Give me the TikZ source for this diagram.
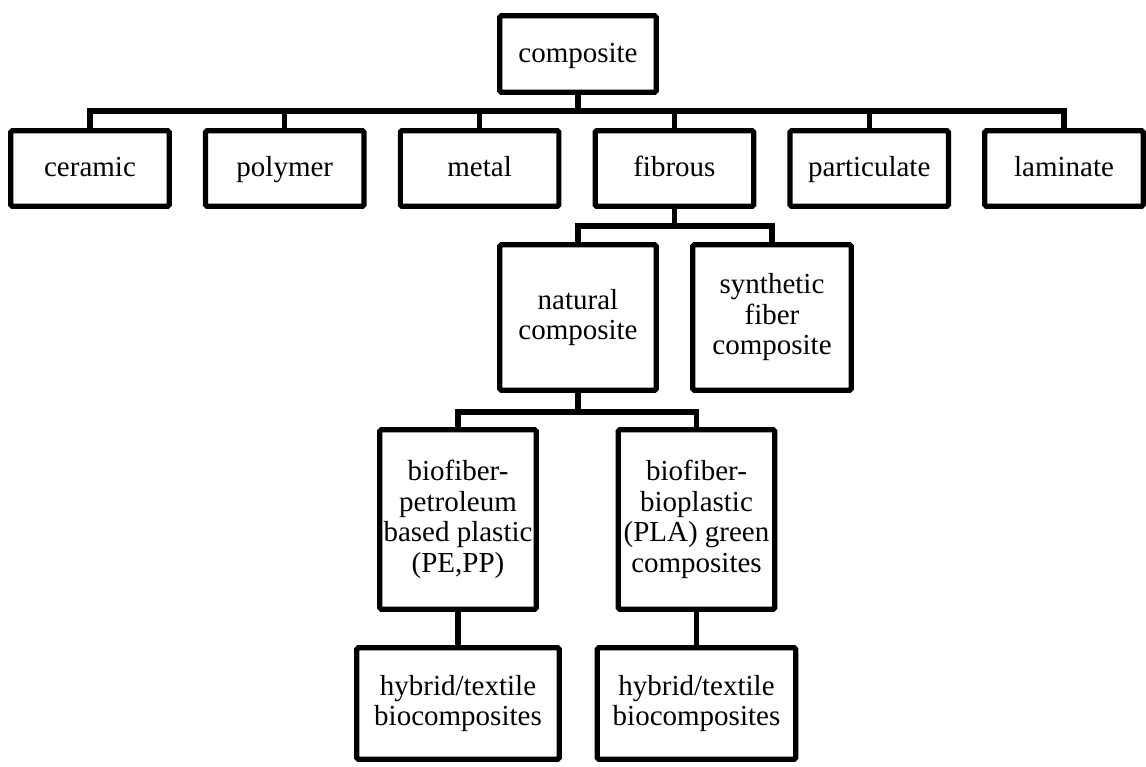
\documentclass[tikz,border=0pt]{standalone}
\usepackage{fontspec}
\setmainfont{Liberation Serif}
\usetikzlibrary{calc}
\tikzset{
  box/.style={draw,line width=5.2pt,rounded corners=1.5pt,align=center,inner sep=2pt,
    font=\fontsize{29}{30.5}\selectfont},
  cat/.style={box,minimum width=158.5pt,minimum height=75.5pt,text height=24pt,text depth=7pt},
  tall/.style={box,minimum width=156.5pt,minimum height=145.5pt},
  bio/.style={box,minimum width=156.5pt,minimum height=179.5pt},
  hyb/.style={box,minimum height=111.5pt},
  wire/.style={line width=5.2pt}
}

\begin{document}
\begin{tikzpicture}[x=1pt,y=-1pt]
    \useasboundingbox (0,0) rectangle (1146,767);

    \node[cat,minimum width=156.5pt,minimum height=76.5pt] (comp) at (578,54) {composite};
    \foreach \n/\t [count=\i from 0] in {cer/ceramic,poly/polymer,met/metal,fib/fibrous,part/particulate,lam/laminate}
      \node[cat] (\n) at ({90+194.8*\i},168.5) {\t};

    \node[tall] (nat) at (578,317.5) {natural\\composite};
    \node[tall,minimum width=158.5pt] (syn) at (772,317.5) {synthetic\\fiber\\composite};

    \node[bio] (bpe) at (458,519.5) {biofiber-\\petroleum\\based plastic\\(PE,PP)};
    \node[bio] (bpla) at (696.5,519.5) {biofiber-\\bioplastic\\(PLA) green\\composites};

    \node[hyb,minimum width=202.5pt] (hyb1) at (458,703.5) {hybrid/textile\\biocomposites};
    \node[hyb,minimum width=198.5pt] (hyb2) at (696.5,703.5) {hybrid/textile\\biocomposites};

    % first level
    \coordinate (bus) at (578,111);
    \draw[wire] (comp.south) -- (bus);
    \draw[wire] (cer.north) |- (lam.north |- bus) -- (lam.north);
    \foreach \n in {poly,met,fib,part}
      \draw[wire] (\n.north) -- (\n.north |- bus);

    % fibrous
    \coordinate (fbus) at (675,226);
    \draw[wire] (fib.south) -- (fib.south |- fbus);
    \draw[wire] (nat.north) |- (syn.north |- fbus) -- (syn.north);

    % natural
    \coordinate (nbus) at (578,412);
    \draw[wire] (nat.south) -- (nbus);
    \draw[wire] (bpe.north) |- (bpla.north |- nbus) -- (bpla.north);
    \draw[wire] (bpe.south) -- (hyb1.north);
    \draw[wire] (bpla.south) -- (hyb2.north);
\end{tikzpicture}
\end{document}
